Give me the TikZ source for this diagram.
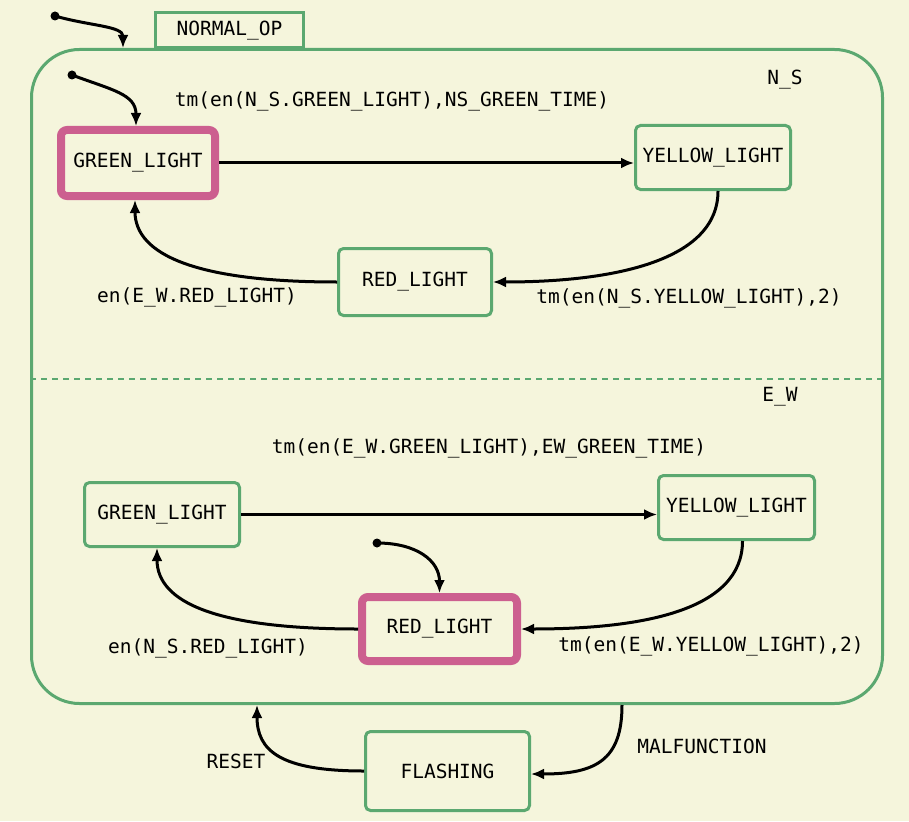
\documentclass[tikz,border=0pt]{standalone}
\usepackage{fontspec}
\setmonofont{DejaVu Sans Mono}
\usetikzlibrary{arrows.meta}
\definecolor{bg}{HTML}{F5F5DC}
\definecolor{sgreen}{HTML}{5BA870}
\definecolor{smag}{HTML}{CC5F8F}
\begin{document}
\begin{tikzpicture}[x=1pt,y=-1pt,
  font=\ttfamily\fontsize{19.5}{22}\selectfont,
  statebox/.style={draw=sgreen, line width=3pt, rounded corners=5pt, inner sep=0pt},
  activebox/.style={draw=smag, line width=8pt, rounded corners=6pt, inner sep=0pt},
  arr/.style={line width=3pt, -{Latex[length=13pt,width=11pt]}},
  lbl/.style={inner sep=0pt},
  dotst/.style={circle, fill=black, inner sep=0pt, minimum size=9pt}]
\fill[bg] (0,0) rectangle (909,821);
\useasboundingbox (0,0) rectangle (909,821);

% containers
\node[statebox, rounded corners=48pt, minimum width=851pt, minimum height=654pt] (outer) at (457,376.5) {};
\node[draw=sgreen, line width=3pt, inner sep=0pt, minimum width=148pt, minimum height=35pt, fill=bg] (tab) at (229.5,30.5) {NORMAL\_OP};
\coordinate (dl) at (30,379);
\coordinate (dr) at (884,379);
\draw[sgreen, line width=2.5pt, dash pattern=on 6pt off 5pt] (dl) -- (dr);
\node[lbl] (ns) at (785,80) {N\_S};
\node[lbl] (ew) at (780,397) {E\_W};

% N_S region
\node[activebox, minimum width=154pt, minimum height=66pt] (nsg) at (138,163) {GREEN\_LIGHT};
\node[statebox, minimum width=155pt, minimum height=64pt] (nsy) at (713,157.5) {YELLOW\_LIGHT};
\node[statebox, minimum width=153pt, minimum height=67pt] (nsr) at (415,282) {RED\_LIGHT};
\node[lbl] (t1) at (392,101) {tm(en(N\_S.GREEN\_LIGHT),NS\_GREEN\_TIME)};
\node[lbl] (t2) at (689,298) {tm(en(N\_S.YELLOW\_LIGHT),2)};
\node[lbl] (t3) at (197,297) {en(E\_W.RED\_LIGHT)};

% E_W region
\node[statebox, minimum width=155pt, minimum height=64pt] (ewg) at (162,514.5) {GREEN\_LIGHT};
\node[statebox, minimum width=156pt, minimum height=64pt] (ewy) at (736.5,507.5) {YELLOW\_LIGHT};
\node[activebox, minimum width=155pt, minimum height=64pt] (ewr) at (439.5,629) {RED\_LIGHT};
\node[lbl] (t4) at (489,448) {tm(en(E\_W.GREEN\_LIGHT),EW\_GREEN\_TIME)};
\node[lbl] (t5) at (208,648) {en(N\_S.RED\_LIGHT)};
\node[lbl] (t6) at (711,646) {tm(en(E\_W.YELLOW\_LIGHT),2)};

% outside
\node[statebox, minimum width=164pt, minimum height=79pt] (fl) at (447.5,771) {FLASHING};
\node[lbl] (mal) at (702,746) {MALFUNCTION};
\node[lbl] (rst) at (236,761) {RESET};

% default transitions
\node[dotst] (d0) at (55,16) {};
\node[dotst] (d1) at (72,75) {};
\node[dotst] (d2) at (377,543) {};
\coordinate (e0) at (123,48);
\draw[arr] (d0.center) .. controls +(35,10) and +(0,-22) .. (e0);
\draw[arr] (d1.center) .. controls +(40,15) and +(0,-32) .. ([xshift=-2pt]nsg.north);
\draw[arr] (d2.center) .. controls +(40,0) and +(0,-32) .. (ewr.north);

% transitions N_S
\draw[arr] (nsg.east) -- (nsg.east -| nsy.west);
\draw[arr] ([xshift=5pt]nsy.south) .. controls +(0,70) and +(120,0) .. (nsr.east);
\draw[arr] (nsr.west) .. controls +(-140,0) and +(0,55) .. ([xshift=-3pt]nsg.south);

% transitions E_W
\draw[arr] (ewg.east) -- (ewg.east -| ewy.west);
\draw[arr] ([xshift=6pt]ewy.south) .. controls +(0,70) and +(120,0) .. (ewr.east);
\draw[arr] (ewr.west) .. controls +(-140,0) and +(0,55) .. ([xshift=-5pt]ewg.south);

% flashing
\draw[arr] ([xshift=165pt]outer.south) .. controls +(0,55) and +(65,0) .. ([yshift=-3pt]fl.east);
\draw[arr] (fl.west) .. controls +(-85,0) and +(0,45) .. ([xshift=-200pt]outer.south);
\end{tikzpicture}
\end{document}
